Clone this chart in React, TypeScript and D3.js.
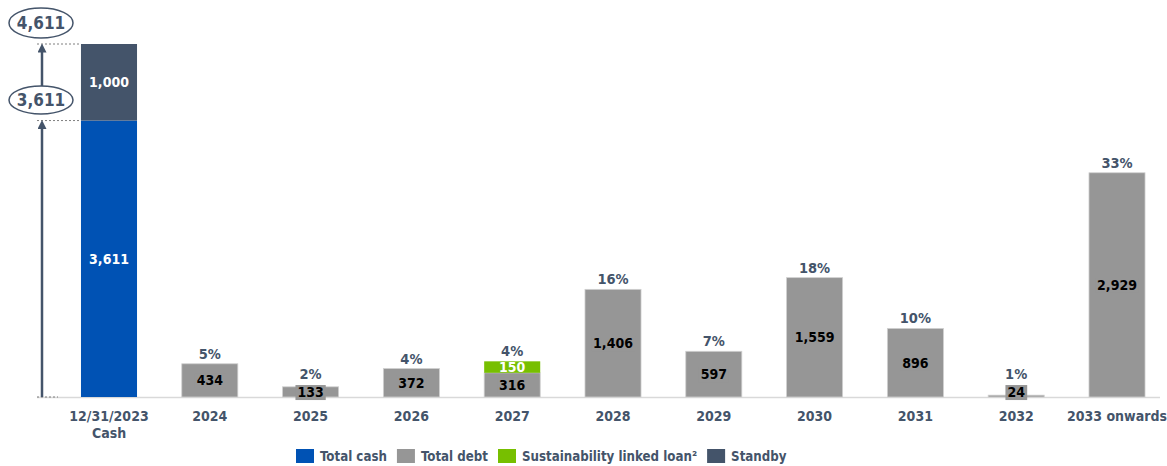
import React, { useEffect, useRef } from "react";
import * as d3 from "d3";

const categories = ["12/31/2023\nCash", "2024", "2025", "2026", "2027", "2028", "2029", "2030", "2031", "2032", "2033 onwards"];
const cashValues = [3611, 0, 0, 0, 0, 0, 0, 0, 0, 0, 0];
const standbyValues = [1000, 0, 0, 0, 0, 0, 0, 0, 0, 0, 0];
const debtValues = [0, 434, 133, 372, 316, 1406, 597, 1559, 896, 24, 2929];
const sllValues = [0, 0, 0, 0, 150, 0, 0, 0, 0, 0, 0];
const pctLabels = ["", "5%", "2%", "4%", "4%", "16%", "7%", "18%", "10%", "1%", "33%"];
const legendItems = ["Total cash", "Total debt", "Sustainability linked loan²", "Standby"];

const W = 1167, H = 466;
const C = {
  cash: "#0052b4",
  standby: "#44546a",
  debt: "#969696",
  sll: "#77bf00",
  text: "#44546a",
  axis: "#d9d9d9",
};
const FONT = "'DejaVu Sans Condensed', 'DejaVu Sans', sans-serif";

export default function App() {
  const ref = useRef<SVGSVGElement>(null);
  useEffect(() => {
    const svg = d3.select(ref.current);
    svg.selectAll("*").remove();
    const x = d3.scaleBand<string>().domain(categories).range([58.6, 1167.4]).paddingInner(0.444).paddingOuter(0.222);
    const y = d3.scaleLinear().domain([0, 4611]).range([397, 44]);
    const bw = x.bandwidth();
    const g = svg.append("g").attr("font-family", FONT).attr("font-weight", "bold");

    // baseline
    g.append("line").attr("x1", 37).attr("x2", 1160).attr("y1", y(0) + 0.5).attr("y2", y(0) + 0.5).attr("stroke", C.axis).attr("stroke-width", 1.5);

    const segs = [
      { vals: cashValues, base: categories.map(() => 0), color: C.cash },
      { vals: standbyValues, base: cashValues, color: C.standby },
      { vals: debtValues, base: categories.map(() => 0), color: C.debt },
      { vals: sllValues, base: debtValues, color: C.sll },
    ];
    segs.forEach((s) => {
      categories.forEach((c, i) => {
        if (!s.vals[i]) return;
        const y0 = y(s.base[i]);
        const y1 = y(s.base[i] + s.vals[i]);
        g.append("rect").attr("x", x(c)!).attr("y", y1).attr("width", bw).attr("height", y0 - y1).attr("fill", s.color)
          .attr("stroke", s.color === C.debt ? "#d0d0d0" : "none").attr("stroke-width", 0.8);
      });
    });

    // value labels
    const valueLabel = (c: string, cy: number, txt: string, fill: string, bg: string | null) => {
      const cx = x(c)! + bw / 2;
      const t = g.append("text").attr("x", cx).attr("y", cy).attr("dy", "0.36em").attr("text-anchor", "middle")
        .attr("font-size", 14).attr("fill", fill).text(txt);
      if (bg) {
        const bb = (t.node() as SVGTextElement).getBBox();
        g.insert("rect", () => t.node() as any).attr("x", bb.x - 2).attr("y", bb.y + 1).attr("width", bb.width + 4).attr("height", bb.height - 1).attr("fill", bg);
      }
      return t;
    };

    categories.forEach((c, i) => {
      if (cashValues[i]) valueLabel(c, (y(0) + y(cashValues[i])) / 2, d3.format(",")(cashValues[i]), "#fff", null);
      if (standbyValues[i]) valueLabel(c, (y(cashValues[i]) + y(cashValues[i] + standbyValues[i])) / 2, d3.format(",")(standbyValues[i]), "#fff", null);
      if (debtValues[i]) {
        const h = y(0) - y(debtValues[i]);
        const cy = h < 18 ? y(0) - 5 : (y(0) + y(debtValues[i])) / 2;
        valueLabel(c, cy, d3.format(",")(debtValues[i]), "#000", C.debt);
        const top = Math.min(y(debtValues[i] + sllValues[i]), cy - 8);
        if (sllValues[i]) {
          valueLabel(c, (y(debtValues[i]) + y(debtValues[i] + sllValues[i])) / 2, d3.format(",")(sllValues[i]), "#fff", null);
        }
        g.append("text").attr("x", x(c)! + bw / 2).attr("y", top - 5).attr("text-anchor", "middle")
          .attr("font-size", 14.5).attr("fill", C.text).text(pctLabels[i]);
      }
    });

    // x axis labels
    categories.forEach((c) => {
      const lines = c.split("\n");
      const t = g.append("text").attr("x", x(c)! + bw / 2).attr("y", 421).attr("text-anchor", "middle")
        .attr("font-size", 14).attr("fill", C.text);
      lines.forEach((l, k) => t.append("tspan").attr("x", x(c)! + bw / 2).attr("dy", k === 0 ? 0 : 17).text(l));
    });

    // left arrows, dotted guides, ellipses
    const ax = 42;
    const defs = svg.append("defs");
    defs.append("marker").attr("id", "arr").attr("viewBox", "0 0 10 10").attr("refX", 5).attr("refY", 5)
      .attr("markerWidth", 9).attr("markerHeight", 9).attr("orient", "auto-start-reverse").attr("markerUnits", "userSpaceOnUse")
      .append("path").attr("d", "M0,0 L10,5 L0,10 Z").attr("fill", C.text);
    const cashTop = y(cashValues[0]);
    const totTop = y(cashValues[0] + standbyValues[0]);
    [cashTop, totTop].forEach((yy) => {
      g.append("line").attr("x1", 37).attr("x2", x(categories[0])!).attr("y1", yy).attr("y2", yy)
        .attr("stroke", "#7f7f7f").attr("stroke-width", 1).attr("stroke-dasharray", "2,2");
    });
    g.append("line").attr("x1", 37).attr("x2", 58).attr("y1", y(0)).attr("y2", y(0))
      .attr("stroke", "#7f7f7f").attr("stroke-width", 1).attr("stroke-dasharray", "2,2");
    const e1 = { cy: 100, ry: 14, v: cashValues[0] };
    const e2 = { cy: 23, ry: 15, v: cashValues[0] + standbyValues[0] };
    g.append("line").attr("x1", ax).attr("x2", ax).attr("y1", y(0)).attr("y2", cashTop + 4)
      .attr("stroke", C.text).attr("stroke-width", 2.5).attr("marker-end", "url(#arr)");
    g.append("line").attr("x1", ax).attr("x2", ax).attr("y1", e1.cy - e1.ry).attr("y2", totTop + 4)
      .attr("stroke", C.text).attr("stroke-width", 2.5).attr("marker-end", "url(#arr)");
    [e1, e2].forEach((e) => {
      g.append("ellipse").attr("cx", 41).attr("cy", e.cy).attr("rx", 32).attr("ry", e.ry)
        .attr("fill", "#fff").attr("stroke", C.text).attr("stroke-width", 1.5);
      g.append("text").attr("x", 41).attr("y", e.cy).attr("dy", "0.36em").attr("text-anchor", "middle")
        .attr("font-size", 17).attr("fill", C.text).text(d3.format(",")(e.v));
    });

    // legend
    const lcol = [C.cash, C.debt, C.sll, C.standby];
    const lg = g.append("g");
    let cx = 0;
    legendItems.forEach((t, i) => {
      lg.append("rect").attr("x", cx).attr("y", 449).attr("width", 18).attr("height", 14).attr("fill", lcol[i]);
      const tx = lg.append("text").attr("x", cx + 24).attr("y", 456).attr("dy", "0.36em").attr("font-size", 13.2)
        .attr("fill", C.text).text(t);
      cx += 24 + (tx.node() as SVGTextElement).getComputedTextLength() + 10;
    });
    lg.attr("transform", `translate(${296},0)`);
  }, []);
  return (
    <svg ref={ref} width={W} height={H} style={{ position: "absolute", left: 0, top: 0, background: "#fff" }} />
  );
}
